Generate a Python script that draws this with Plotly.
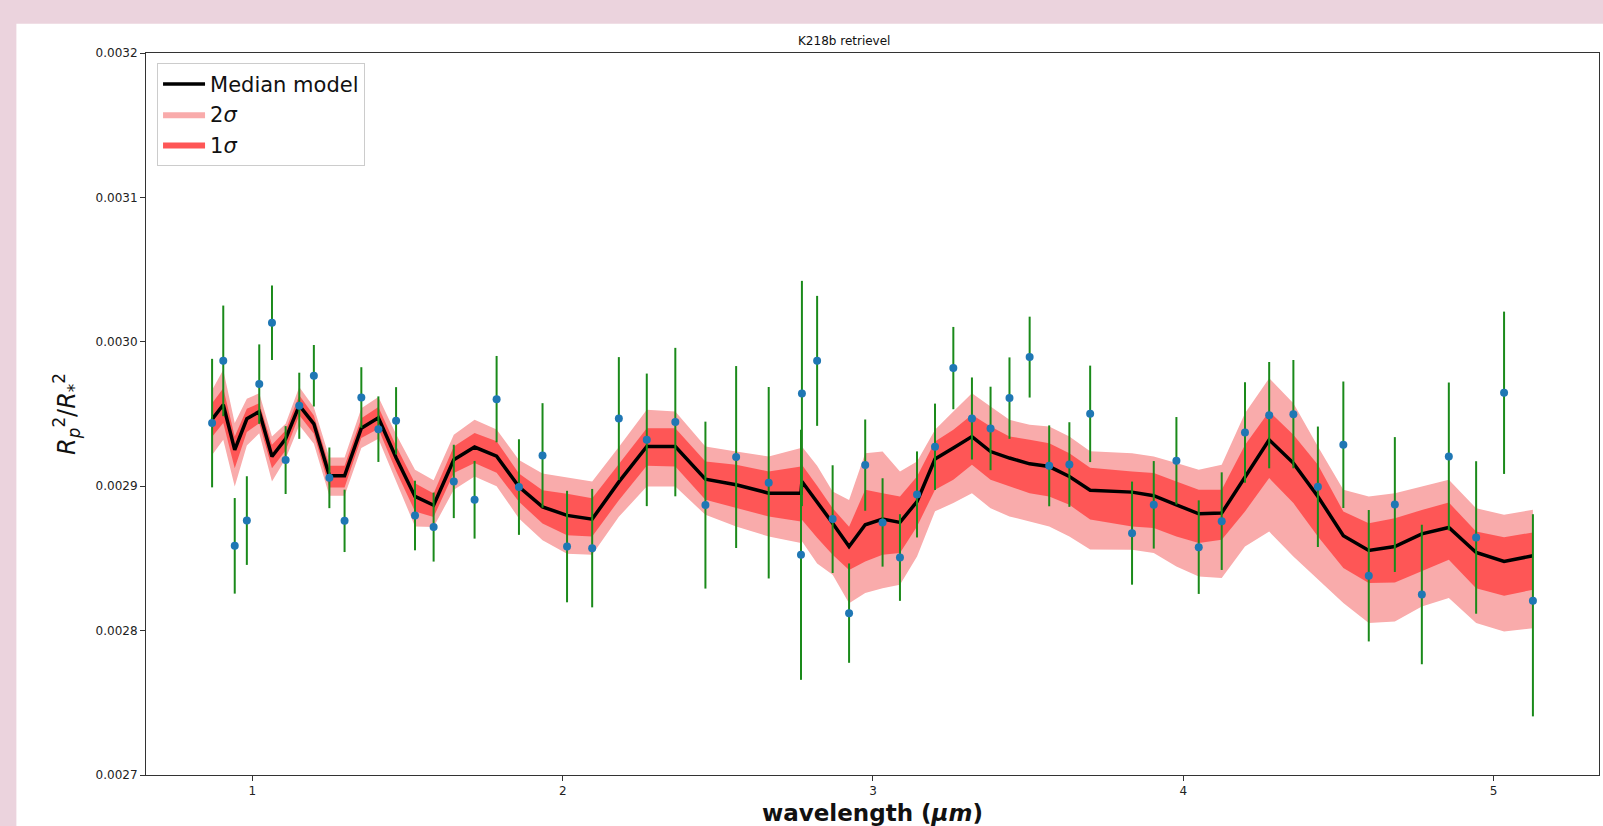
import plotly.graph_objects as go

wavelength = [0.870, 0.906, 0.943, 0.982, 1.022, 1.063, 1.107, 1.151, 1.198, 1.248,
              1.297, 1.351, 1.406, 1.463, 1.524, 1.584, 1.649, 1.716, 1.787, 1.859,
              1.935, 2.014, 2.095, 2.181, 2.271, 2.363, 2.460, 2.559, 2.664, 2.768,
              2.771, 2.820, 2.870, 2.923, 2.975, 3.031, 3.087, 3.142, 3.200, 3.259,
              3.319, 3.379, 3.440, 3.505, 3.568, 3.633, 3.700, 3.835, 3.905, 3.978,
              4.050, 4.124, 4.199, 4.277, 4.355, 4.434, 4.516, 4.598, 4.682, 4.769,
              4.856, 4.944, 5.034, 5.127]

depth = [0.0029437, 0.0029868, 0.0028587, 0.0028762, 0.0029707, 0.0030132, 0.0029181, 0.0029557, 0.0029765, 0.0029058,
         0.0028760, 0.0029614, 0.0029395, 0.0029453, 0.0028797, 0.0028717, 0.0029033, 0.0028906, 0.0029603, 0.0028994,
         0.0029213, 0.0028582, 0.0028571, 0.0029469, 0.0029321, 0.0029444, 0.0028869, 0.0029202, 0.0029024, 0.0028525,
         0.0029642, 0.0029868, 0.0028772, 0.0028121, 0.0029146, 0.0028749, 0.0028506, 0.0028943, 0.0029273, 0.0029818,
         0.0029469, 0.0029400, 0.0029610, 0.0029894, 0.0029141, 0.0029150, 0.0029501, 0.0028675, 0.0028871, 0.0029176,
         0.0028578, 0.0028758, 0.0029372, 0.0029492, 0.0029499, 0.0028996, 0.0029287, 0.0028380, 0.0028873, 0.0028250,
         0.0029206, 0.0028645, 0.0029647, 0.0028206]

depth_err_up = [4.45e-5, 3.83e-5, 3.31e-5, 3.07e-5, 2.75e-5, 2.58e-5, 2.35e-5, 2.29e-5, 2.13e-5, 2.10e-5,
                2.16e-5, 2.10e-5, 2.27e-5, 2.33e-5, 2.41e-5, 2.39e-5, 2.54e-5, 2.69e-5, 2.99e-5, 3.31e-5,
                3.62e-5, 3.86e-5, 4.10e-5, 4.25e-5, 4.59e-5, 5.14e-5, 5.78e-5, 6.30e-5, 6.63e-5, 8.66e-5,
                7.80e-5, 4.50e-5, 3.73e-5, 3.44e-5, 3.16e-5, 3.06e-5, 3.00e-5, 2.98e-5, 2.99e-5, 2.85e-5,
                2.84e-5, 2.89e-5, 2.82e-5, 2.80e-5, 2.80e-5, 2.93e-5, 3.34e-5, 3.57e-5, 3.03e-5, 3.03e-5,
                3.24e-5, 3.38e-5, 3.48e-5, 3.68e-5, 3.75e-5, 4.17e-5, 4.38e-5, 4.55e-5, 4.67e-5, 4.83e-5,
                5.12e-5, 5.28e-5, 5.62e-5, 6.00e-5]
depth_err_down = [4.45e-5, 3.83e-5, 3.31e-5, 3.07e-5, 2.75e-5, 2.58e-5, 2.35e-5, 2.29e-5, 2.13e-5, 2.10e-5,
                  2.16e-5, 2.10e-5, 2.27e-5, 2.33e-5, 2.41e-5, 2.39e-5, 2.54e-5, 2.69e-5, 2.99e-5, 3.31e-5,
                  3.62e-5, 3.86e-5, 4.10e-5, 4.25e-5, 4.59e-5, 5.14e-5, 5.78e-5, 6.30e-5, 6.63e-5, 8.66e-5,
                  7.80e-5, 4.50e-5, 3.73e-5, 3.44e-5, 3.16e-5, 3.06e-5, 3.00e-5, 2.98e-5, 2.99e-5, 2.85e-5,
                  2.84e-5, 2.89e-5, 2.82e-5, 2.80e-5, 2.80e-5, 2.93e-5, 3.34e-5, 3.57e-5, 3.03e-5, 3.03e-5,
                  3.24e-5, 3.38e-5, 3.48e-5, 3.68e-5, 3.75e-5, 4.17e-5, 4.38e-5, 4.55e-5, 4.67e-5, 4.83e-5,
                  5.12e-5, 5.28e-5, 5.62e-5, 8.00e-5]

median_model = [0.0029463, 0.0029564, 0.0029252, 0.0029467, 0.0029517, 0.0029206, 0.0029328, 0.0029560, 0.0029432, 0.0029072,
                0.0029072, 0.0029402, 0.0029474, 0.0029197, 0.0028929, 0.0028868, 0.0029183, 0.0029271, 0.0029208, 0.0028996,
                0.0028857, 0.0028798, 0.0028772, 0.0029030, 0.0029275, 0.0029275, 0.0029049, 0.0029010, 0.0028952, 0.0028952,
                0.0029033, 0.0028892, 0.0028744, 0.0028582, 0.0028733, 0.0028772, 0.0028749, 0.0028894, 0.0029188, 0.0029264,
                0.0029344, 0.0029240, 0.0029195, 0.0029155, 0.0029136, 0.0029067, 0.0028972, 0.0028959, 0.0028934, 0.0028871,
                0.0028809, 0.0028814, 0.0029067, 0.0029321, 0.0029160, 0.0028929, 0.0028657, 0.0028555, 0.0028582, 0.0028670,
                0.0028714, 0.0028541, 0.0028479, 0.0028518]

# band half-widths above / below the median, in ppm (1e-6)
sig2_up_ppm = [20.3, 24.2, 18.5, 13.8, 12.7, 13.8, 10.4, 12.7, 11.5, 12.7,
               12.7, 13.8, 14.3, 16.2, 18.5, 17.3, 17.3, 18.9, 18.5, 18.5,
               23.1, 26.5, 26.1, 24.2, 25.4, 24.2, 22.6, 23.1, 25.4, 31.2,
               24.2, 24.9, 21.9, 32.3, 49.6, 46.9, 35.3, 27.7, 20.3, 25.4,
               30.0, 31.2, 26.5, 27.0, 27.7, 27.7, 27.0, 27.0, 27.2, 28.9,
               30.5, 33.5, 43.9, 42.7, 41.5, 34.6, 31.9, 37.4, 36.9, 32.8,
               33.0, 30.7, 32.3, 31.9]
sig1_up_ppm = [11.1, 11.5, 9.2, 6.9, 5.8, 8.1, 5.8, 6.9, 5.8, 6.9,
               6.9, 6.9, 7.4, 8.1, 9.2, 8.1, 9.2, 9.7, 10.4, 9.2,
               11.5, 15.0, 14.5, 12.7, 12.7, 12.7, 12.2, 13.8, 15.0, 18.5,
               11.5, 11.1, 10.4, 13.8, 24.2, 18.0, 18.0, 17.3, 12.2, 12.7,
               15.0, 17.3, 15.0, 16.6, 16.2, 16.2, 15.5, 14.3, 15.7, 16.2,
               16.6, 16.2, 21.9, 19.6, 19.6, 21.9, 16.8, 18.9, 19.6, 16.6,
               17.3, 14.5, 16.8, 16.2]
sig1_dn_ppm = [12.0, 12.7, 12.7, 9.2, 8.1, 8.1, 8.1, 6.9, 6.9, 8.1,
               8.1, 6.9, 7.6, 9.2, 10.4, 8.1, 9.2, 11.1, 11.5, 10.4,
               11.5, 13.8, 12.0, 12.7, 13.4, 13.8, 14.3, 16.2, 16.2, 19.6,
               26.5, 24.9, 21.9, 16.2, 25.4, 24.7, 21.2, 17.3, 21.2, 21.9,
               19.6, 19.6, 19.6, 20.3, 20.8, 19.6, 20.3, 23.8, 22.4, 21.9,
               20.3, 18.5, 24.2, 26.5, 27.7, 27.7, 22.4, 22.6, 24.9, 26.1,
               22.4, 24.7, 23.8, 23.5]
sig2_dn_ppm = [24.7, 24.2, 25.4, 18.5, 15.0, 17.3, 13.8, 13.8, 13.8, 13.8,
               13.8, 13.8, 14.5, 16.2, 20.8, 15.0, 20.8, 20.3, 20.8, 21.9,
               23.1, 26.5, 24.7, 24.2, 27.7, 27.7, 24.7, 28.9, 30.0, 34.6,
               41.5, 42.7, 35.8, 39.2, 47.3, 47.8, 43.2, 38.1, 36.2, 38.1,
               39.2, 39.2, 40.4, 39.9, 41.5, 41.5, 41.1, 39.9, 39.7, 42.7,
               43.4, 45.0, 48.5, 63.5, 64.6, 57.7, 46.6, 50.3, 51.9, 50.3,
               48.9, 48.9, 48.5, 50.1]

y_ticks = [0.0027, 0.0028, 0.0029, 0.0030, 0.0031, 0.0032]
x_ticks = [1, 2, 3, 4, 5]

hi2 = [m + u * 1e-6 for m, u in zip(median_model, sig2_up_ppm)]
lo2 = [m - d * 1e-6 for m, d in zip(median_model, sig2_dn_ppm)]
hi1 = [m + u * 1e-6 for m, u in zip(median_model, sig1_up_ppm)]
lo1 = [m - d * 1e-6 for m, d in zip(median_model, sig1_dn_ppm)]

fig = go.Figure()
fig.add_trace(go.Scatter(
    x=wavelength + wavelength[::-1], y=hi2 + lo2[::-1], fill='toself',
    fillcolor='#F9ABAB', line=dict(width=0, color='#F9ABAB'), mode='lines',
    name='2<i>σ</i>', legendrank=2, hoverinfo='skip'))
fig.add_trace(go.Scatter(
    x=wavelength + wavelength[::-1], y=hi1 + lo1[::-1], fill='toself',
    fillcolor='#FE5656', line=dict(width=0, color='#FE5656'), mode='lines',
    name='1<i>σ</i>', legendrank=3, hoverinfo='skip'))
fig.add_trace(go.Scatter(
    x=wavelength, y=median_model, mode='lines',
    line=dict(color='black', width=3.5), name='Median model', legendrank=1))
fig.add_trace(go.Scatter(
    x=wavelength, y=depth, mode='markers',
    marker=dict(color='#1f77b4', size=8),
    error_y=dict(type='data', symmetric=False, array=depth_err_up, arrayminus=depth_err_down,
                 color='#1a8a1a', thickness=2, width=0),
    showlegend=False))

axis_color = '#333333'
fig.update_layout(
    width=1603, height=826,
    margin=dict(l=146, r=4, t=53, b=51, autoexpand=False),
    paper_bgcolor='#EBD3DD', plot_bgcolor='white',
    font=dict(family='DejaVu Sans', color='#222222'),
    showlegend=True,
    legend=dict(x=0.0076, y=0.9864, xanchor='left', yanchor='top',
                bgcolor='rgba(255,255,255,0.85)', bordercolor='#CCCCCC', borderwidth=1,
                font=dict(size=21, color='#111111'), itemwidth=42, tracegroupgap=0),
    shapes=[dict(type='rect', xref='paper', yref='paper', x0=-0.0892, x1=1.01,
                 y0=-0.08, y1=1.0405, fillcolor='white', line=dict(width=0), layer='below')],
    annotations=[dict(text='K218b retrievel', x=0.4805, y=1.0169, xref='paper', yref='paper',
                      showarrow=False, font=dict(size=12, color='#111111'),
                      xanchor='center', yanchor='middle')],
)
fig.update_xaxes(range=[0.657, 5.340], tickvals=x_ticks, ticks='outside', ticklen=5,
                 tickcolor=axis_color, showline=True, linecolor=axis_color, linewidth=1,
                 mirror=True, showgrid=False, zeroline=False,
                 tickfont=dict(size=12, color='#222222'),
                 title=dict(text='<b>wavelength (<i>μm</i>)</b>', font=dict(size=23, color='#111111'),
                            standoff=7))
fig.update_yaxes(range=[0.0027, 0.0032], tickvals=y_ticks, tickformat='.4f', ticks='outside',
                 ticklen=5, tickcolor=axis_color, showline=True, linecolor=axis_color,
                 linewidth=1, mirror=True, showgrid=False, zeroline=False,
                 tickfont=dict(size=12, color='#222222'),
                 title=dict(text='<i>R</i><sub><i>p</i></sub><sup>2</sup>/<i>R</i><sub>*</sub><sup>2</sup>',
                            font=dict(size=24, color='#111111'), standoff=13))

fig.write_html("out.html")
